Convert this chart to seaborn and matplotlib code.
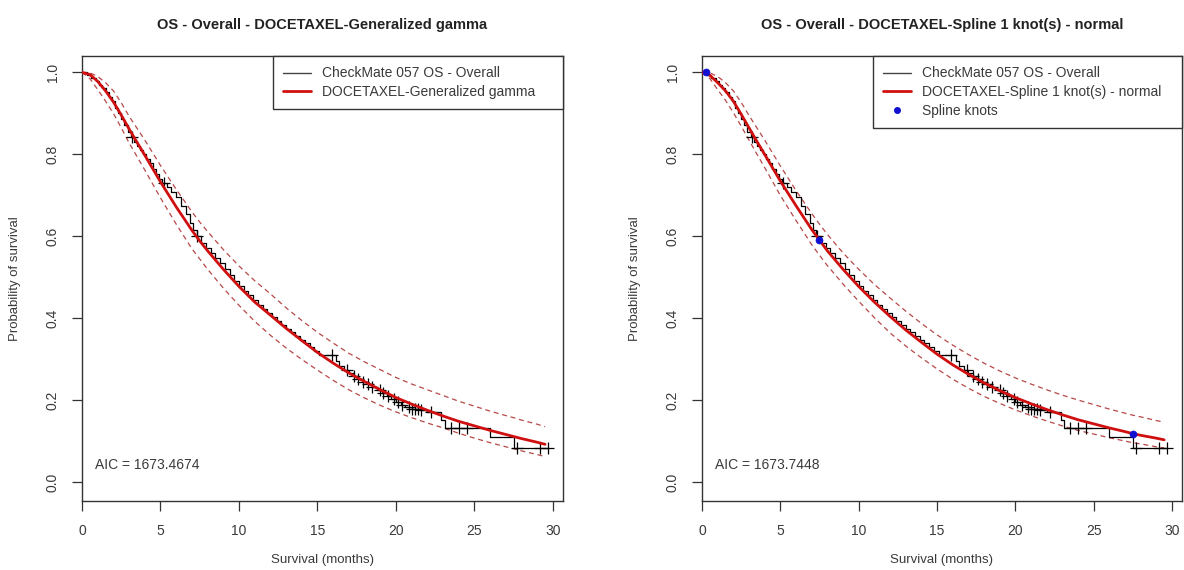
import numpy as np
import pandas as pd
import matplotlib
matplotlib.use("Agg")
import matplotlib.pyplot as plt
from matplotlib.lines import Line2D
import seaborn as sns

# ---------------- data ----------------
km_time = [0.0, 0.3, 0.6, 0.9, 1.1, 1.3, 1.5, 1.7, 1.9, 2.1, 2.3, 2.5, 2.7, 2.9, 3.1,
           3.3, 3.5, 3.7, 3.9, 4.1, 4.3, 4.5, 4.7, 4.9, 5.1, 5.4, 5.7, 6.0, 6.3, 6.6,
           6.9, 7.1, 7.3, 7.6, 7.9, 8.2, 8.5, 8.8, 9.1, 9.4, 9.7, 10.0, 10.3, 10.6,
           10.9, 11.2, 11.5, 11.8, 12.1, 12.4, 12.7, 13.0, 13.3, 13.6, 13.9, 14.2,
           14.5, 14.8, 15.1, 16.2, 16.4, 16.7, 17.0, 17.3, 17.6, 17.9, 18.2, 18.5,
           18.8, 19.1, 19.4, 19.7, 20.0, 20.3, 20.6, 21.0, 21.5, 22.0, 22.9, 23.1,
           26.0, 27.5, 29.7]
km_surv = [1.0, 0.993, 0.986, 0.979, 0.969, 0.962, 0.952, 0.941, 0.93, 0.914, 0.9,
           0.886, 0.872, 0.855, 0.842, 0.83, 0.82, 0.81, 0.80, 0.79, 0.778, 0.765,
           0.752, 0.74, 0.73, 0.72, 0.708, 0.695, 0.675, 0.655, 0.632, 0.615, 0.60,
           0.585, 0.572, 0.56, 0.547, 0.535, 0.52, 0.505, 0.492, 0.479, 0.468, 0.456,
           0.444, 0.433, 0.423, 0.413, 0.404, 0.394, 0.384, 0.375, 0.366, 0.357,
           0.348, 0.34, 0.33, 0.32, 0.312, 0.296, 0.283, 0.274, 0.266, 0.259, 0.252,
           0.246, 0.24, 0.233, 0.226, 0.218, 0.21, 0.203, 0.197, 0.19, 0.185, 0.18,
           0.176, 0.171, 0.152, 0.134, 0.11, 0.085, 0.085]
censor_time = [3.2, 5.2, 7.35, 15.9, 16.9, 17.3, 17.6, 17.9, 18.2, 18.5, 19.0, 19.2,
               19.5, 19.9, 20.1, 20.4, 20.8, 21.0, 21.2, 21.4, 21.6, 22.2, 23.5, 24.0,
               24.5, 27.7, 29.2, 29.7]

fit_time = [0, 0.5, 1, 1.5, 2, 2.5, 3, 3.5, 4, 5, 6, 7, 7.5, 8, 9, 10, 11, 12, 13, 14,
            15, 16, 17, 18, 19, 20, 21, 22, 23, 24, 25, 26, 27, 27.5, 28, 29, 29.5]

gg_est = [1.0, 0.995, 0.978, 0.955, 0.928, 0.896, 0.862, 0.83, 0.798, 0.733, 0.672,
          0.615, 0.589, 0.565, 0.52, 0.478, 0.44, 0.408, 0.376, 0.346, 0.317, 0.291,
          0.267, 0.246, 0.226, 0.207, 0.191, 0.176, 0.162, 0.149, 0.138, 0.127, 0.117,
          0.112, 0.107, 0.098, 0.093]
gg_upper = [1.0, 0.999, 0.99, 0.975, 0.955, 0.926, 0.893, 0.864, 0.835, 0.773, 0.715,
            0.66, 0.635, 0.612, 0.568, 0.528, 0.492, 0.46, 0.426, 0.395, 0.366, 0.34,
            0.315, 0.294, 0.275, 0.256, 0.24, 0.226, 0.212, 0.198, 0.186, 0.174, 0.163,
            0.158, 0.152, 0.142, 0.136]
gg_lower = [1.0, 0.985, 0.958, 0.93, 0.9, 0.865, 0.828, 0.795, 0.762, 0.694, 0.63,
            0.57, 0.545, 0.52, 0.474, 0.432, 0.393, 0.359, 0.328, 0.3, 0.274, 0.249,
            0.226, 0.206, 0.188, 0.172, 0.158, 0.145, 0.133, 0.12, 0.108, 0.097, 0.087,
            0.082, 0.077, 0.068, 0.063]

sp_est = [1.0, 0.993, 0.975, 0.955, 0.93, 0.898, 0.865, 0.832, 0.80, 0.735, 0.675,
          0.617, 0.591, 0.565, 0.52, 0.478, 0.44, 0.405, 0.372, 0.342, 0.313, 0.287,
          0.264, 0.243, 0.224, 0.207, 0.192, 0.178, 0.165, 0.153, 0.143, 0.133, 0.124,
          0.119, 0.115, 0.108, 0.104]
sp_upper = [1.0, 0.999, 0.99, 0.975, 0.955, 0.927, 0.895, 0.865, 0.835, 0.772, 0.712,
            0.656, 0.63, 0.605, 0.56, 0.52, 0.483, 0.45, 0.418, 0.388, 0.36, 0.335,
            0.312, 0.291, 0.272, 0.255, 0.24, 0.226, 0.213, 0.201, 0.19, 0.179, 0.169,
            0.164, 0.16, 0.151, 0.147]
sp_lower = [1.0, 0.985, 0.958, 0.932, 0.902, 0.869, 0.835, 0.801, 0.768, 0.7, 0.639,
            0.58, 0.554, 0.529, 0.484, 0.442, 0.402, 0.365, 0.333, 0.304, 0.277, 0.252,
            0.23, 0.21, 0.193, 0.177, 0.163, 0.15, 0.138, 0.127, 0.118, 0.109, 0.101,
            0.097, 0.094, 0.087, 0.084]

knot_time = [0.26, 7.49, 27.5]
knot_surv = [1.0, 0.591, 0.118]

titles = ["OS - Overall - DOCETAXEL-Generalized gamma",
          "OS - Overall - DOCETAXEL-Spline 1 knot(s) - normal"]
fit_labels = ["DOCETAXEL-Generalized gamma", "DOCETAXEL-Spline 1 knot(s) - normal"]
km_label = "CheckMate 057 OS - Overall"
aic_text = ["AIC = 1673.4674", "AIC = 1673.7448"]
x_ticks = [0, 5, 10, 15, 20, 25, 30]
y_ticks = [0.0, 0.2, 0.4, 0.6, 0.8, 1.0]

# ---------------- style ----------------
sns.set_theme(style="white")
plt.rcParams["font.family"] = ["Liberation Sans", "DejaVu Sans"]

W, H = 1184, 570
fig = plt.figure(figsize=(W / 100, H / 100), dpi=100)

RED = "#d01010"
DASH = "#b84848"
TXT = "#3a3a3a"

km_df = pd.DataFrame({"t": km_time, "s": km_surv})
km_t = np.array(km_time)
km_s = np.array(km_surv)
cens_s = [km_s[np.searchsorted(km_t, c, side="right") - 1] for c in censor_time]
cens_df = pd.DataFrame({"t": censor_time, "s": cens_s})

panels = [
    dict(left=82, right=563, est=gg_est, up=gg_upper, lo=gg_lower, knots=False,
         leg_left=273, ylab_x=15),
    dict(left=702, right=1182, est=sp_est, up=sp_upper, lo=sp_lower, knots=True,
         leg_left=873, ylab_x=635),
]
top_px, bot_px = 56, 500.5

for i, p in enumerate(panels):
    wpx = p["right"] - p["left"]
    ax = fig.add_axes([p["left"] / W, 1 - bot_px / H, wpx / W, (bot_px - top_px) / H])
    fit_df = pd.DataFrame({"t": fit_time, "est": p["est"], "up": p["up"], "lo": p["lo"]})

    sns.lineplot(data=km_df, x="t", y="s", ax=ax, color="black", lw=0.9,
                 drawstyle="steps-post", estimator=None, sort=False, zorder=3)
    sns.scatterplot(data=cens_df, x="t", y="s", ax=ax, marker="+", s=70, color="black",
                    linewidth=0.9, zorder=4)
    sns.lineplot(data=fit_df, x="t", y="up", ax=ax, color=DASH, lw=0.9,
                 linestyle=(0, (4, 3)), estimator=None, zorder=2)
    sns.lineplot(data=fit_df, x="t", y="lo", ax=ax, color=DASH, lw=0.9,
                 linestyle=(0, (4, 3)), estimator=None, zorder=2)
    sns.lineplot(data=fit_df, x="t", y="est", ax=ax, color=RED, lw=2.0,
                 estimator=None, zorder=5)
    handles = [Line2D([], [], color="#444444", lw=1.0),
               Line2D([], [], color=RED, lw=2.0)]
    labels = [km_label, fit_labels[i]]
    if p["knots"]:
        kdf = pd.DataFrame({"t": knot_time, "s": knot_surv})
        sns.scatterplot(data=kdf, x="t", y="s", ax=ax, color="#1010d0", s=26,
                        edgecolor="#1010d0", zorder=6)
        handles.append(Line2D([], [], color="#1010d0", marker="o", ls="", ms=4))
        labels.append("Spline knots")

    ax.set_xlim(0, 30.64)
    ax.set_ylim(-0.044, 1.04)
    ax.set_xticks(x_ticks)
    ax.set_yticks(y_ticks)
    ax.set_xticklabels([str(v) for v in x_ticks])
    ax.set_yticklabels([f"{v:.1f}" for v in y_ticks], rotation=90, va="center")
    ax.tick_params(axis="both", which="both", direction="out", length=7, width=0.9,
                   color="#333333", labelsize=10, labelcolor=TXT, bottom=True,
                   left=True, pad=10)
    ax.tick_params(axis="y", pad=9)
    for s in ax.spines.values():
        s.set_color("#333333")
        s.set_linewidth(1.0)
        s.set_visible(True)
    ax.set_xlabel("Survival (months)", fontsize=9.5, color=TXT)
    ax.set_ylabel("Probability of survival", fontsize=9.5, color=TXT)
    ax.xaxis.set_label_coords(0.5, (bot_px - 560) / (bot_px - top_px))
    ax.xaxis.label.set_va("center")
    ax.yaxis.set_label_coords((p["ylab_x"] - p["left"]) / wpx, 0.5)
    ax.yaxis.label.set_va("center")
    ax.text(0.83, 0.043, aic_text[i], fontsize=10, color=TXT, ha="left", va="center")

    x0 = (p["leg_left"] - p["left"]) / wpx
    leg = ax.legend(handles, labels, loc="upper right",
                    bbox_to_anchor=(x0, 0.0, 1 - x0, 1.0), mode="expand",
                    borderaxespad=0, fontsize=10, frameon=True, fancybox=False,
                    handlelength=2.0, handletextpad=0.8, labelspacing=0.33,
                    borderpad=0.75, labelcolor=TXT)
    leg.get_frame().set_edgecolor("#333333")
    leg.get_frame().set_linewidth(1.0)
    leg.get_frame().set_alpha(1)

    cx = (p["left"] + p["right"]) / 2
    fig.text(cx / W, 1 - 25 / H, titles[i], ha="center", va="center", fontsize=10.5,
             fontweight="bold", color="#222222")

fig.savefig("out.png", dpi=100)
